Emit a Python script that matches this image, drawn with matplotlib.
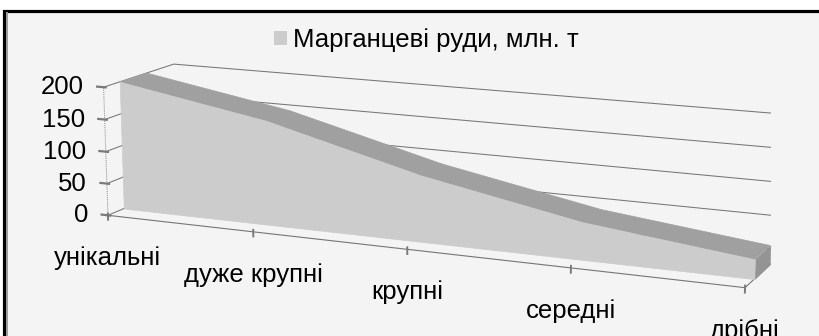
import matplotlib
matplotlib.use('Agg')
import matplotlib.pyplot as plt
from matplotlib.patches import Rectangle, Patch
from mpl_toolkits.mplot3d import proj3d
from mpl_toolkits.mplot3d.art3d import Poly3DCollection

plt.rcParams['font.family'] = ['Liberation Sans', 'DejaVu Sans']

categories = ['унікальні', 'дуже крупні', 'крупні', 'середні', 'дрібні']
values = [200, 160, 100, 55, 28]
value_ticks = [0, 50, 100, 150, 200]
series_name = 'Марганцеві руди, млн. т'

W, H = 820, 336
fig = plt.figure(figsize=(W / 100, H / 100), dpi=100, facecolor='white')

# chart area background with the dark frame
fig.add_artist(Rectangle((4.5 / W, -0.1), 1.2, (H - 11) / H + 0.1, transform=fig.transFigure,
                         facecolor='#f4f4f4', edgecolor='black', lw=2.3, zorder=0))
fig.add_artist(plt.Line2D([7.5 / W, 7.5 / W], [0, (H - 12.5) / H], transform=fig.transFigure,
                          color='#9a9a9a', lw=1.4, zorder=0.5))

ax = fig.add_axes([0, 0, 1, 1], projection='3d', computed_zorder=False)
ax.set_axis_off()
ax.patch.set_alpha(0)
ax.view_init(elev=13, azim=-66.6)
ax.set_proj_type('persp', focal_length=0.6)
ax.set_box_aspect((709, 149, 141))

n = len(categories)
xs = list(range(n))
xmax = n - 1
zmax = max(value_ticks)
d1, d2 = 0.22, 0.6
grid_c = '#767676'

# walls: gridlines on left and back wall
for v in value_ticks:
    ax.plot([0, 0, xmax], [0, 1, 1], [v, v, v], color=grid_c, lw=0.75, zorder=1)
# floor edges
ax.plot([0, xmax, xmax], [0, 0, 1], [0, 0, 0], color=grid_c, lw=0.8, zorder=1)
# value axis
ax.plot([0, 0], [0, 0], [0, zmax], color='#8a8a8a', lw=0.7, ls=(0, (1, 1)), zorder=1)
for v in value_ticks:
    ax.plot([-0.045, 0.015], [0, 0], [v, v], color='#7a7a7a', lw=1.6, zorder=1)
for i in xs:
    ax.plot([i, i], [0, 0], [-7, 3], color='#7a7a7a', lw=1.4, zorder=1)

# series: top faces, right end, front face
top = [[(xs[k], d1, values[k]), (xs[k + 1], d1, values[k + 1]),
        (xs[k + 1], d2, values[k + 1]), (xs[k], d2, values[k])] for k in range(n - 1)]
ax.add_collection3d(Poly3DCollection(top, facecolor='#a0a0a0', edgecolor='#a0a0a0', lw=0.5, zorder=3))
end = [[(xmax, d1, 0), (xmax, d2, 0), (xmax, d2, values[-1]), (xmax, d1, values[-1])]]
ax.add_collection3d(Poly3DCollection(end, facecolor='#949494', edgecolor='#949494', lw=0.5, zorder=3))
front = [[(x, d1, v) for x, v in zip(xs, values)] + [(xmax, d1, 0), (0, d1, 0)]]
ax.add_collection3d(Poly3DCollection(front, facecolor='#cccccc', edgecolor='#cccccc', lw=0.5, zorder=4))

ax.set_xlim(0, xmax)
ax.set_ylim(0, 1)
ax.set_zlim(0, zmax)

fig.legend(handles=[Patch(facecolor='#cccccc', edgecolor='none', label=series_name)],
           loc='center', bbox_to_anchor=(0.52, (H - 40) / H), frameon=False, fontsize=18.5,
           handlelength=0.5, handleheight=0.5, handletextpad=0.25, borderpad=0)

# fit the projected box onto the chart area
fig.canvas.draw()
M = ax.get_proj()


def to_px(x, y, z):
    px, py, _ = proj3d.proj_transform(x, y, z, M)
    return ax.transData.transform((px, py))


a1 = to_px(0, 0, 0)
a2 = to_px(xmax, 0, 0)
t1 = (108, H - 215)
t2 = (745, H - 288)
s = (((t2[0] - t1[0]) ** 2 + (t2[1] - t1[1]) ** 2) / ((a2[0] - a1[0]) ** 2 + (a2[1] - a1[1]) ** 2)) ** 0.5
bb = ax.get_position().transformed(fig.transFigure)
cx = ((t1[0] + t2[0]) - (a1[0] + a2[0] - 2 * bb.x0) * s) / 2
cy = ((t1[1] + t2[1]) - (a1[1] + a2[1] - 2 * bb.y0) * s) / 2
ax.set_position([cx / W, cy / H, bb.width * s / W, bb.height * s / H])
fig.canvas.draw()

# axis labels placed at the projected tick positions
for v in value_ticks:
    px, py = to_px(0, 0, v)
    fig.text((px - 20) / W, py / H, str(v), ha='right', va='center', fontsize=18.5)
for i, lab in zip(xs, categories):
    px, py = to_px(i, 0, 0)
    fig.text(px / W, (py - 43) / H, lab, ha='center', va='center', fontsize=18.5)

fig.savefig('out.png', dpi=100, facecolor='white')
